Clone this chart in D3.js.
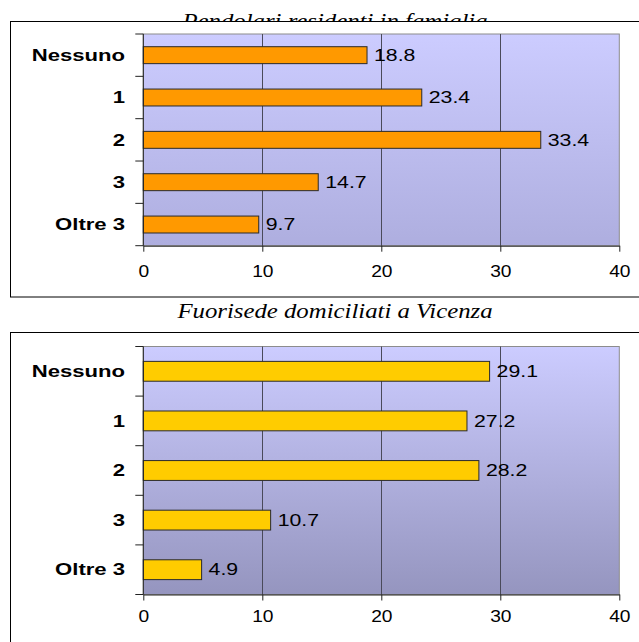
<!DOCTYPE html>
<meta charset="utf-8">
<html>
<head>
  <script src="https://d3js.org/d3.v7.min.js"></script>
  <style>
    body { margin: 0; background: #fff; }
    svg { display: block; }
    .cat { font-family: "Liberation Sans", Arial, sans-serif; font-weight: bold; font-size: 16px; }
    .num { font-family: "Liberation Sans", Arial, sans-serif; font-size: 16px; }
    .title { font-family: "Liberation Serif", "Times New Roman", serif; font-style: italic; font-size: 21px; }
  </style>
</head>
<body>
<svg id="chart" width="639" height="642"></svg>
<script>
  // data
  var categories = ["Nessuno", "1", "2", "3", "Oltre 3"];
  var pendolari = [18.8, 23.4, 33.4, 14.7, 9.7];
  var fuorisede = [29.1, 27.2, 28.2, 10.7, 4.9];
  var tickValues = [0, 10, 20, 30, 40];
  var titles = ["Pendolari residenti in famiglia", "Fuorisede domiciliati a Vicenza"];

  var svg = d3.select("#chart");
  var defs = svg.append("defs");

  // the original picture is stretched sideways
  var stretchCat = 1.38, stretchVal = 1.33, stretchTick = 1.2;

  var panels = [
    { title: titles[0], values: pendolari, fill: "#ff9900", titleY: 28, frameTop: 21.5, frameBottom: 297,
      plotTop: 34, plotBottom: 245.7, tickPad: 14, bgTop: "#ccccff", bgBottom: "#aeaedf" },
    { title: titles[1], values: fuorisede, fill: "#ffcc00", titleY: 318, frameTop: 332.5, frameBottom: 660,
      plotTop: 346.5, plotBottom: 594.5, tickPad: 10, bgTop: "#ccccff", bgBottom: "#9595bf" }
  ];

  var x = d3.scaleLinear().domain([0, 40]).range([143.3, 619.3]);

  panels.forEach(function(p, k) {
    // title goes under the frame so the frame cuts it like in the original
    svg.append("text")
      .attr("class", "title")
      .attr("x", 335)
      .attr("y", p.titleY)
      .attr("text-anchor", "middle")
      .attr("transform", "translate(335,0) scale(1.18,1) translate(-335,0)")
      .text(p.title);

    svg.append("rect")
      .attr("x", 10.5).attr("y", p.frameTop)
      .attr("width", 700).attr("height", p.frameBottom - p.frameTop)
      .attr("fill", "#fff").attr("stroke", "#000").attr("stroke-width", 1);

    var grad = defs.append("linearGradient")
      .attr("id", "bg" + k)
      .attr("x1", 0).attr("y1", 0).attr("x2", 0).attr("y2", 1);
    grad.append("stop").attr("offset", "0%").attr("stop-color", p.bgTop);
    grad.append("stop").attr("offset", "100%").attr("stop-color", p.bgBottom);

    var y = d3.scaleBand()
      .domain(categories)
      .range([p.plotTop, p.plotBottom])
      .paddingInner(0.6)
      .paddingOuter(0.3);

    var g = svg.append("g");

    g.append("rect")
      .attr("x", x(0)).attr("y", p.plotTop)
      .attr("width", x(40) - x(0)).attr("height", p.plotBottom - p.plotTop)
      .attr("fill", "url(#bg" + k + ")")
      .attr("stroke", "#8c8c8c").attr("stroke-width", 1);

    // vertical gridlines
    g.selectAll(".grid")
      .data(tickValues.slice(1, -1))
      .enter().append("line")
      .attr("x1", function(d) { return Math.round(x(d)) + 0.5; })
      .attr("x2", function(d) { return Math.round(x(d)) + 0.5; })
      .attr("y1", p.plotTop).attr("y2", p.plotBottom)
      .attr("stroke", "#4a4a5a").attr("stroke-width", 1);

    // bars
    g.selectAll(".bar")
      .data(p.values)
      .enter().append("rect")
      .attr("x", x(0))
      .attr("y", function(d, i) { return y(categories[i]); })
      .attr("width", function(d) { return x(d) - x(0); })
      .attr("height", y.bandwidth())
      .attr("fill", p.fill)
      .attr("stroke", "#2a2a2a").attr("stroke-width", 1);

    // value labels
    g.selectAll(".val")
      .data(p.values)
      .enter().append("text")
      .attr("class", "num")
      .attr("transform", function(d, i) {
        return "translate(" + (x(d) + 7) + "," + (y(categories[i]) + y.bandwidth() / 2) + ") scale(" + stretchVal + ",1)";
      })
      .attr("dy", "0.36em")
      .text(function(d) { return d3.format(".1f")(d); });

    // left axis with ticks between categories
    var step = y.step();
    g.append("line")
      .attr("x1", x(0)).attr("x2", x(0))
      .attr("y1", p.plotTop).attr("y2", p.plotBottom)
      .attr("stroke", "#222");
    g.selectAll(".ltick")
      .data(d3.range(categories.length + 1))
      .enter().append("line")
      .attr("x1", x(0) - 8).attr("x2", x(0))
      .attr("y1", function(i) { return p.plotTop + i * step; })
      .attr("y2", function(i) { return p.plotTop + i * step; })
      .attr("stroke", "#222");

    g.selectAll(".cat")
      .data(categories)
      .enter().append("text")
      .attr("class", "cat")
      .attr("text-anchor", "end")
      .attr("transform", function(d) {
        return "translate(125," + (y(d) + y.bandwidth() / 2) + ") scale(" + stretchCat + ",1)";
      })
      .attr("dy", "0.36em")
      .text(function(d) { return d; });

    // bottom axis
    var axis = g.append("g")
      .attr("transform", "translate(0," + p.plotBottom + ")")
      .call(d3.axisBottom(x).tickValues(tickValues).tickSize(6).tickPadding(p.tickPad).tickSizeOuter(0));
    axis.select(".domain").attr("stroke", "#222");
    axis.selectAll(".tick line").attr("stroke", "#222");
    axis.selectAll(".tick text")
      .attr("class", "num")
      .attr("fill", "#000")
      .attr("transform", "scale(" + stretchTick + ",1)");
  });
</script>
</body>
</html>
